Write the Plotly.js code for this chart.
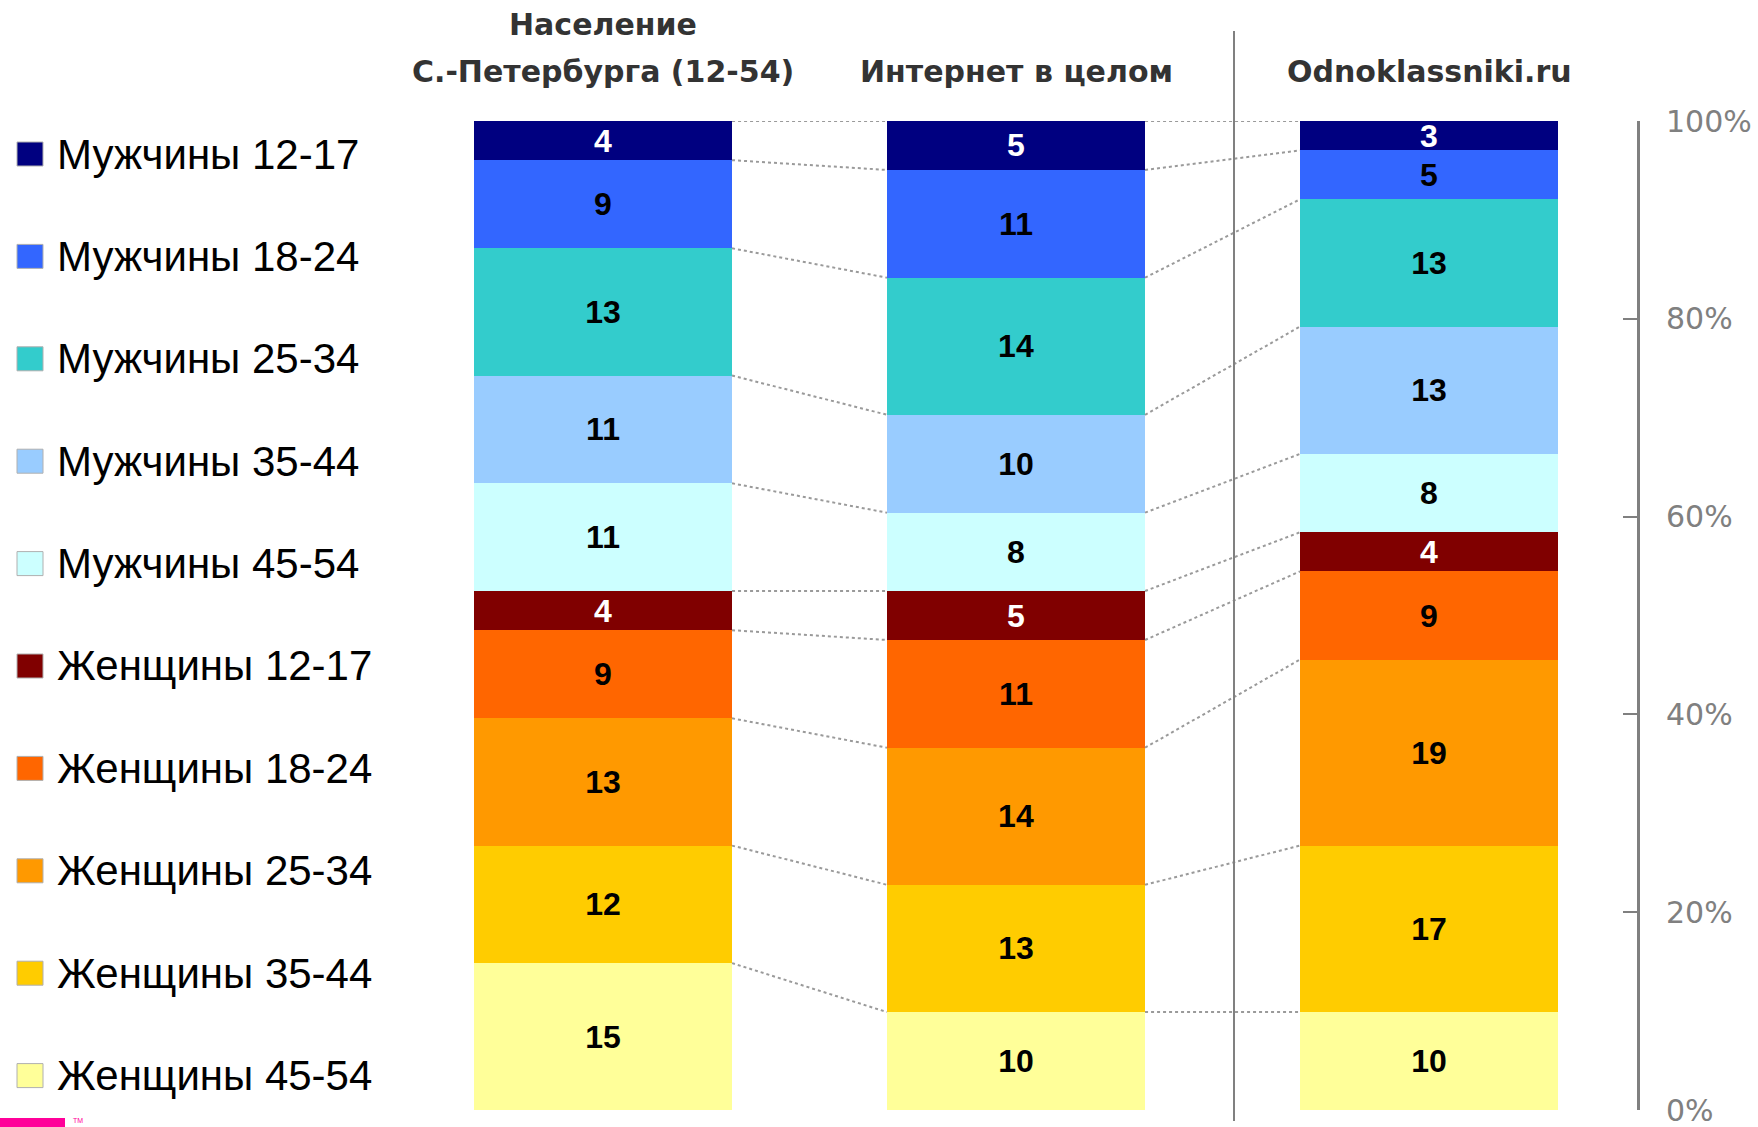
<!DOCTYPE html>
<html>
<head>
<meta charset="utf-8">
<script src="https://cdn.plot.ly/plotly-3.0.1.min.js"></script>
<style>
  html, body { margin: 0; padding: 0; background: #ffffff; }
  #chart { width: 1758px; height: 1127px; }
</style>
</head>
<body>
<div id="chart"></div>
<script>
// ---------- data ----------
const groupTitles = [
  ['Население', 'С.-Петербурга (12-54)'],
  ['Интернет в целом'],
  ['Odnoklassniki.ru']
];
const series = [
  'Мужчины 12-17', 'Мужчины 18-24', 'Мужчины 25-34', 'Мужчины 35-44', 'Мужчины 45-54',
  'Женщины 12-17', 'Женщины 18-24', 'Женщины 25-34', 'Женщины 35-44', 'Женщины 45-54'
];
const population    = [4, 9, 13, 11, 11, 4, 9, 13, 12, 15];
const internet      = [5, 11, 14, 10, 8, 5, 11, 14, 13, 10];
const odnoklassniki = [3, 5, 13, 13, 8, 4, 9, 19, 17, 10];
const tickValues = [0, 20, 40, 60, 80, 100];

// ---------- styles ----------
const colors = ['#000080', '#3366FF', '#33CCCC', '#99CCFF', '#CCFFFF',
                '#800000', '#FF6600', '#FF9900', '#FFCC00', '#FFFF99'];
const whiteText = [true, false, false, false, false, true, false, false, false, false];

const W = 1758, H = 1127;
const M = {l: 440, r: 121, t: 121, b: 17};
const PW = W - M.l - M.r, PH = H - M.t - M.b;
const pxX = px => (px - M.l) / PW;
const pxY = py => (H - M.b - py) / PH;

const groupsData = [population, internet, odnoklassniki];
const xPos = [0, 1, 2];
const barWidth = 0.625;

const traces = [];
// stacked bars: first trace is the bottom one
for (let j = series.length - 1; j >= 0; j--) {
  const vals = groupsData.map(g => g[j]);
  traces.push({
    type: 'bar',
    name: series[j],
    x: xPos,
    y: vals,
    width: barWidth,
    text: vals.map(String),
    texttemplate: '%{text}',
    textposition: 'inside',
    insidetextanchor: 'middle',
    textangle: 0,
    constraintext: 'none',
    cliponaxis: false,
    textfont: {family: 'Arial, "Liberation Sans", sans-serif', size: 32, weight: 'bold',
               color: whiteText[j] ? '#ffffff' : '#000000'},
    marker: {color: colors[j], line: {width: 0}},
    showlegend: false,
    hoverinfo: 'skip'
  });
}

// dotted connectors between neighbouring bars (segment tops, in percent)
const tops = groupsData.map(g => {
  const total = g.reduce((a, b) => a + b, 0);
  return g.map((v, j) => g.slice(j).reduce((a, b) => a + b, 0) / total * 100);
});
const cx = [], cy = [];
for (let gi = 0; gi < groupsData.length - 1; gi++) {
  for (let j = 0; j < series.length; j++) {
    cx.push(xPos[gi] + barWidth / 2, xPos[gi + 1] - barWidth / 2, null);
    cy.push(tops[gi][j], tops[gi + 1][j], null);
  }
}
traces.push({
  type: 'scatter', mode: 'lines', x: cx, y: cy,
  line: {color: '#9a9a9a', width: 2, dash: 'dot'},
  connectgaps: false, showlegend: false, hoverinfo: 'skip'
});

// ---------- annotations & shapes ----------
const annotations = [];
const shapes = [];

// group titles
const titleLineY = [25, 71];
groupTitles.forEach((lines, gi) => {
  lines.forEach((t, li) => {
    const yy = titleLineY[titleLineY.length - lines.length + li];
    annotations.push({
      text: t, xref: 'x', yref: 'paper', x: xPos[gi], y: pxY(yy),
      xanchor: 'center', yanchor: 'middle', showarrow: false,
      font: {family: '"DejaVu Sans", Verdana, sans-serif', size: 30, weight: 'bold', color: '#333333'}
    });
  });
});

// legend (manual, large)
series.forEach((name, j) => {
  const yc = 154 + j * 102.4;
  shapes.push({
    type: 'rect', xref: 'paper', yref: 'paper',
    x0: pxX(17), x1: pxX(43), y0: pxY(yc - 12), y1: pxY(yc + 12),
    fillcolor: colors[j], line: {color: '#b0b0b0', width: 1}
  });
  annotations.push({
    text: name, xref: 'paper', yref: 'paper', x: pxX(55), y: pxY(yc),
    xanchor: 'left', yanchor: 'middle', showarrow: false,
    font: {family: 'Arial, "Liberation Sans", sans-serif', size: 42, color: '#000000'}
  });
});

// separator line
shapes.push({
  type: 'line', xref: 'paper', yref: 'paper',
  x0: pxX(1234), x1: pxX(1234), y0: pxY(1121), y1: pxY(31),
  line: {color: '#808080', width: 2}
});

// pink logo remnant
shapes.push({
  type: 'rect', xref: 'paper', yref: 'paper',
  x0: pxX(0), x1: pxX(65), y0: pxY(1127), y1: pxY(1118),
  fillcolor: '#FF0099', line: {width: 0}
});
annotations.push({
  text: 'TM', xref: 'paper', yref: 'paper', x: pxX(71), y: pxY(1120),
  xanchor: 'left', yanchor: 'middle', showarrow: false,
  font: {family: 'Arial, sans-serif', size: 7, color: '#FF0099'}
});

const layout = {
  width: W, height: H,
  margin: M,
  paper_bgcolor: '#ffffff', plot_bgcolor: '#ffffff',
  barmode: 'stack',
  barnorm: 'percent',
  bargap: 0,
  showlegend: false,
  xaxis: {
    range: [(M.l - 603) / 413, (M.l + PW - 603) / 413],
    visible: false, fixedrange: true
  },
  yaxis: {
    range: [0, 100], side: 'right',
    showline: true, linecolor: '#808080', linewidth: 3,
    ticks: 'inside', ticklen: 14, tickwidth: 2, tickcolor: '#808080',
    tickvals: tickValues, ticktext: tickValues.map(v => v + '%'),
    tickfont: {family: '"DejaVu Sans", Verdana, sans-serif', size: 30, color: '#808080'},
    ticklabelstandoff: 20,
    ticklabeloverflow: 'allow',
    showgrid: false, zeroline: false, fixedrange: true
  },
  annotations: annotations,
  shapes: shapes
};

Plotly.newPlot('chart', traces, layout, {displayModeBar: false, staticPlot: true});
</script>
</body>
</html>
